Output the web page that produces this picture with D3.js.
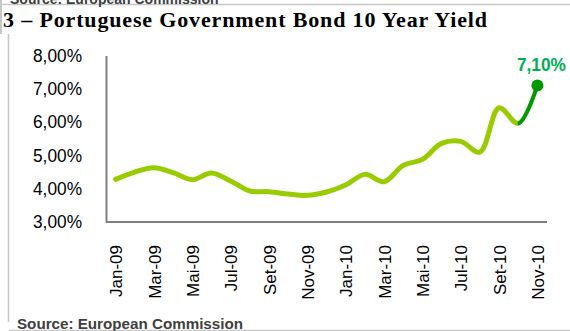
<!DOCTYPE html>
<html>
<head>
<meta charset="utf-8">
<script src="https://cdn.jsdelivr.net/npm/d3@7"></script>
<style>
  html, body { margin: 0; padding: 0; background: #fff; }
  svg { display: block; }
</style>
</head>
<body>
<svg id="chart" width="570" height="331"></svg>
<script>
// Monthly 10-year yield, Jan 2009 – Nov 2010 (%)
const months = ["Jan-09","Fev-09","Mar-09","Abr-09","Mai-09","Jun-09","Jul-09","Ago-09","Set-09","Out-09","Nov-09","Dez-09",
                "Jan-10","Fev-10","Mar-10","Abr-10","Mai-10","Jun-10","Jul-10","Ago-10","Set-10","Out-10","Nov-10"];
const yieldPct = [4.28, 4.50, 4.63, 4.48, 4.27, 4.47, 4.23, 3.93, 3.91, 3.84, 3.80, 3.90,
                  4.11, 4.43, 4.21, 4.70, 4.88, 5.36, 5.42, 5.10, 6.43, 5.96, 7.10];
const shownMonths = ["Jan-09","Mar-09","Mai-09","Jul-09","Set-09","Nov-09","Jan-10","Mar-10","Mai-10","Jul-10","Set-10","Nov-10"];
const yTicks = [3, 4, 5, 6, 7, 8];

const titleText = "3 \u2013 Portuguese Government Bond 10 Year Yield";
const sourceText = "Source: European Commission";

const svg = d3.select("#chart");
const plot = { left: 106, right: 547, top: 55.5, bottom: 222 };

const x = d3.scalePoint().domain(months).range([plot.left, plot.right]).padding(0.5);
const y = d3.scaleLinear().domain([3, 8]).range([plot.bottom, plot.top]);

const fmt = v => d3.format(".2f")(v).replace(".", ",") + "%";

// Page frame lines
const frame = svg.append("g").attr("stroke", "#c8c8c8").attr("fill", "none");
svg.append("text")
  .attr("x", 10).attr("y", 3.5)
  .attr("font-family", "Liberation Sans, Arial, sans-serif")
  .attr("font-weight", "bold").attr("font-size", 14).attr("fill", "#404040")
  .text(sourceText);
frame.append("line").attr("x1", 0).attr("x2", 570).attr("y1", 4.5).attr("y2", 4.5).attr("stroke-width", 1.5);
frame.append("line").attr("x1", 1).attr("x2", 1).attr("y1", 0).attr("y2", 34).attr("stroke-width", 2);
frame.append("line").attr("x1", 8.5).attr("x2", 8.5).attr("y1", 34).attr("y2", 322).attr("stroke-width", 1.5);
frame.append("line").attr("x1", 9).attr("x2", 570).attr("y1", 330.5).attr("y2", 330.5).attr("stroke-width", 1.5);

// Title
svg.append("text")
  .attr("x", 3).attr("y", 27)
  .attr("font-family", "Liberation Serif, Times New Roman, serif")
  .attr("font-weight", "bold").attr("font-size", 22).attr("fill", "#000")
  .attr("textLength", 484).attr("lengthAdjust", "spacing")
  .text(titleText);

// Y axis
const yAxis = svg.append("g")
  .attr("transform", `translate(${plot.left},0)`)
  .call(d3.axisLeft(y).tickValues(yTicks).tickSize(0).tickPadding(24).tickFormat(fmt));
yAxis.select(".domain").attr("stroke", "#808080").attr("stroke-width", 2);
yAxis.selectAll("text")
  .attr("font-family", "Liberation Sans, Arial, sans-serif")
  .attr("font-size", 18).attr("fill", "#000")
  .attr("textLength", 49).attr("lengthAdjust", "spacingAndGlyphs");

// X axis
const xAxis = svg.append("g")
  .attr("transform", `translate(0,${plot.bottom})`)
  .call(d3.axisBottom(x).tickValues(shownMonths).tickSize(0));
xAxis.select(".domain").attr("stroke", "#808080").attr("stroke-width", 2)
  .attr("d", `M${plot.left},0H${plot.right}`);
xAxis.selectAll("text")
  .attr("font-family", "Liberation Sans, Arial, sans-serif")
  .attr("font-size", 17).attr("fill", "#000")
  .attr("text-anchor", "end")
  .attr("transform", "rotate(-90)")
  .attr("x", -23).attr("y", 0).attr("dy", "0.36em");

// Yield line: light green through Oct-10, dark green for the final month
const pts = months.map((m, i) => [x(m), y(yieldPct[i])]);
const line = d3.line().curve(d3.curveCatmullRom.alpha(0.5));
const splitX = x(months[months.length - 2]);

const defs = svg.append("defs");
defs.append("clipPath").attr("id", "clip-early")
  .append("rect").attr("x", 0).attr("y", 0).attr("width", splitX).attr("height", 331);
defs.append("clipPath").attr("id", "clip-last")
  .append("rect").attr("x", splitX - 0.5).attr("y", 0).attr("width", 570 - splitX).attr("height", 331);

svg.append("path")
  .attr("d", line(pts))
  .attr("clip-path", "url(#clip-early)")
  .attr("fill", "none").attr("stroke", "#99cc00")
  .attr("stroke-width", 5).attr("stroke-linecap", "round").attr("stroke-linejoin", "round");
svg.append("path")
  .attr("d", line(pts))
  .attr("clip-path", "url(#clip-last)")
  .attr("fill", "none").attr("stroke", "#009900")
  .attr("stroke-width", 4).attr("stroke-linecap", "round");

const last = pts[pts.length - 1];
svg.append("circle")
  .attr("cx", last[0]).attr("cy", last[1]).attr("r", 6)
  .attr("fill", "#009900");
svg.append("text")
  .attr("x", last[0] + 4).attr("y", last[1] - 14.5)
  .attr("text-anchor", "middle")
  .attr("font-family", "Liberation Sans, Arial, sans-serif")
  .attr("font-weight", "bold").attr("font-size", 18).attr("fill", "#00b050")
  .attr("textLength", 49).attr("lengthAdjust", "spacingAndGlyphs")
  .text(fmt(yieldPct[yieldPct.length - 1]));

// Source note
svg.append("text")
  .attr("x", 17).attr("y", 329)
  .attr("font-family", "Liberation Sans, Arial, sans-serif")
  .attr("font-weight", "bold").attr("font-size", 14).attr("fill", "#404040")
  .attr("textLength", 226).attr("lengthAdjust", "spacingAndGlyphs")
  .text(sourceText);
</script>
</body>
</html>
